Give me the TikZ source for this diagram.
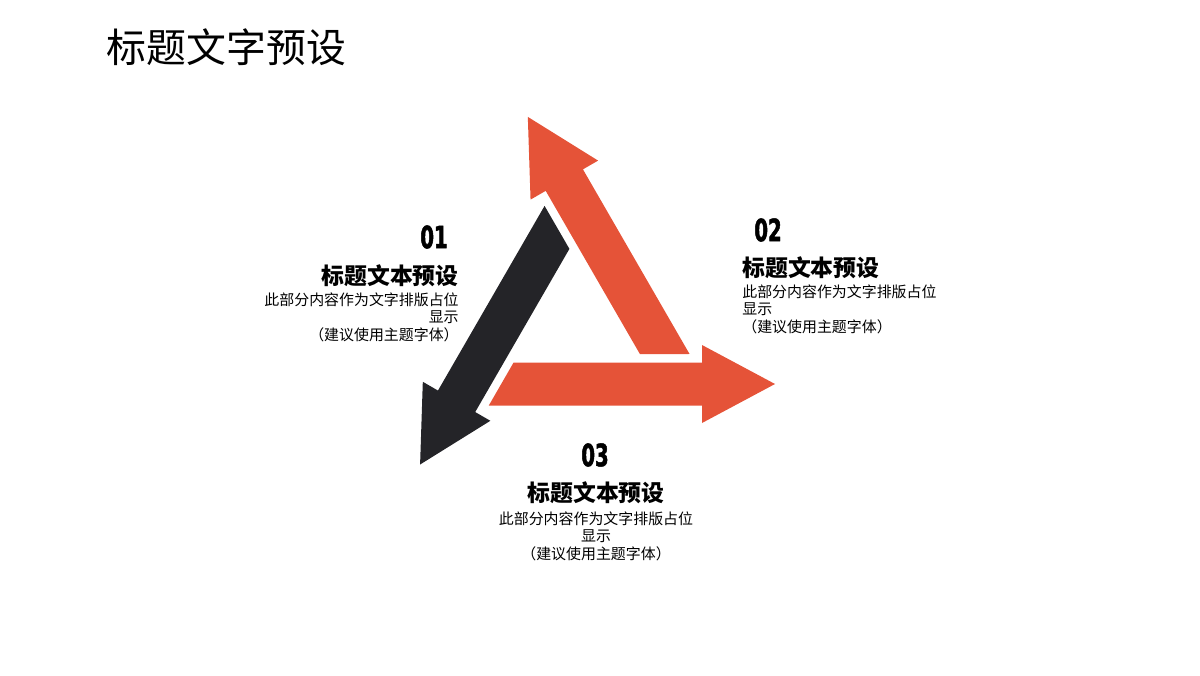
\documentclass[tikz,border=0pt]{standalone}
\usepackage{fontspec}
\usepackage{tikz,xcolor}
\setmainfont{Noto Sans CJK SC}
\newfontfamily\numfont[FakeStretch=0.64,BoldFeatures={FakeBold=1.6}]{DejaVu Sans}
\usetikzlibrary{positioning}
\definecolor{orangearrow}{RGB}{229,83,56}
\definecolor{darkarrow}{RGB}{36,36,40}
\tikzset
{
    % Style for the big page title
    page title/.style=
    {
        anchor=west,
        inner sep=0pt,
        font=\fontsize{22.7}{27}\selectfont
    },
    % Style for the step numbers
    step number/.style=
    {
        inner sep=0pt,
        font=\numfont\bfseries\fontsize{17.5}{20}\selectfont
    },
    % Style for the small headings
    step title/.style=
    {
        inner sep=0pt,
        font=\bfseries\fontsize{13}{15}\selectfont
    },
    % Style for the placeholder text
    step text/.style=
    {
        inner sep=0pt,
        font=\fontsize{8.5}{9.9}\selectfont
    }
}
% One arrow of the triangle, drawn below the centre and turned by #1
\newcommand{\triarrow}[2]
{
    \begin{scope}[shift={(centre)}, rotate=#1]
        \fill[#2] (\tailtop,-\inr+\shaft) -- (\hbase,-\inr+\shaft)
            -- (\hbase,-\inr+\barb) -- (\tipx,-\inr)
            -- (\hbase,-\inr-\barb) -- (\hbase,-\inr-\shaft)
            -- (\tailbot,-\inr-\shaft) -- cycle;
    \end{scope}
}

\begin{document}
\begin{tikzpicture}
    % Page size
    \path [use as bounding box] (0,0) rectangle (24,13.5);

    % Define variables
    %% Inner radius of the triangle
    \def\inr{1.244}
    %% Half width of the shaft
    \def\shaft{0.43}
    %% Half width of the head
    \def\barb{0.78}
    %% Start of the head and its tip
    \def\hbase{2.554}
    \def\tipx{4.014}
    %% Ends of the tail, cut along the next arrow
    \def\tailtop{-1.214}
    \def\tailbot{-1.71}

    \coordinate (centre) at (11.486,7.064);

    % Title
    \node (title) [page title] at (2.13,12.56) {标题文字预设};

    % Draw the arrows
    \triarrow{0}{orangearrow}
    \triarrow{120}{orangearrow}
    \triarrow{240}{darkarrow}

    % Step 01
    \node (num1) [step number] at (8.68,8.76) {01};
    \node (head1) [step title, anchor=east] at (9.18,7.98) {标题文本预设};
    \node (text1) [step text, anchor=north east, align=right] at (9.18,7.65)
        {此部分内容作为文字排版占位\\显示\\（建议使用主题字体）};

    % Step 02
    \node (num2) [step number] at (15.36,8.9) {02};
    \node (head2) [step title, anchor=west] at (14.84,8.14) {标题文本预设};
    \node (text2) [step text, anchor=north west, align=left] at (14.84,7.81)
        {此部分内容作为文字排版占位\\显示\\（建议使用主题字体）};

    % Step 03
    \node (num3) [step number] at (11.9,4.4) {03};
    \node (head3) [step title] at (11.92,3.64) {标题文本预设};
    \node (text3) [step text, anchor=north, align=center] at (11.92,3.27)
        {此部分内容作为文字排版占位\\显示\\（建议使用主题字体）};
\end{tikzpicture}
\end{document}
